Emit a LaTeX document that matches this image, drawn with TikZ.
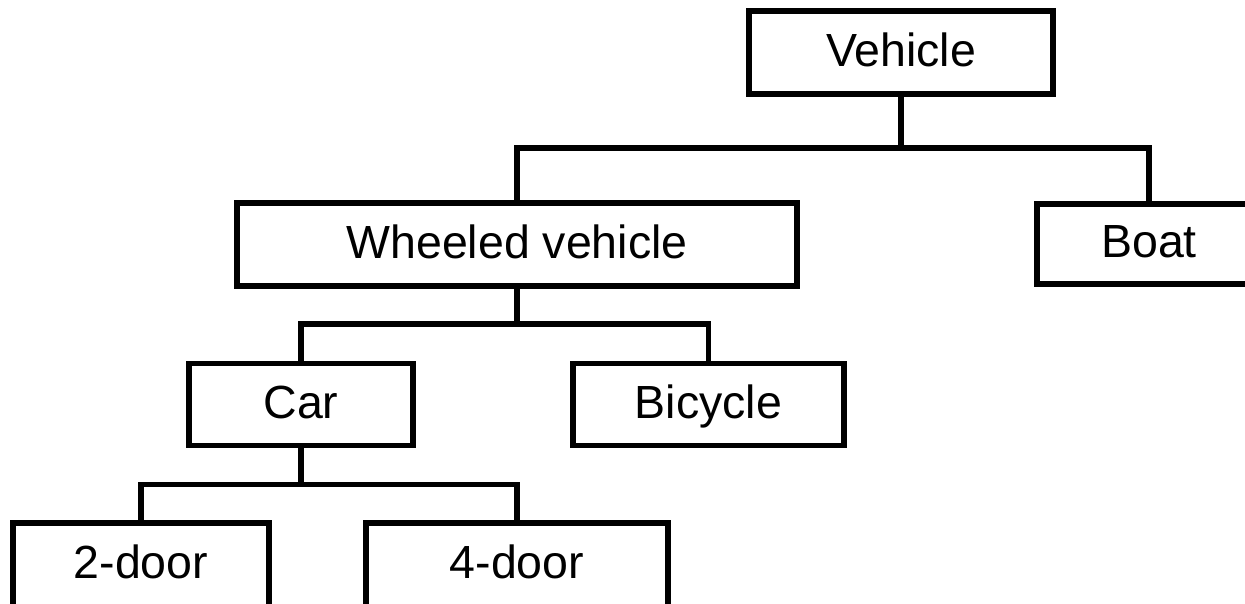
\documentclass[tikz,border=0pt]{standalone}
\usepackage{fontspec}
\setmainfont{Liberation Sans}
\begin{document}
\begin{tikzpicture}[x=1pt,y=-1pt,
  box/.style={draw=black, line width=5.7pt, rectangle, inner sep=0pt,
    minimum height=82pt, text height=33.3pt, text depth=5.3pt,
    font=\fontsize{46.5pt}{50pt}\selectfont},
  lowbox/.style={box, minimum height=90pt, text height=25.3pt},
  link/.style={draw=black, line width=5.7pt}]
\useasboundingbox (0,0) rectangle (1245,604);
\clip (0,0) rectangle (1245,604);

% boxes of the hierarchy
\node[box, minimum width=304pt, minimum height=83pt] (veh) at (901,52.5) {Vehicle};
\node[box, minimum width=560pt, minimum height=83pt] (wv)  at (517,244.5) {Wheeled vehicle};
\node[box, minimum width=224pt, minimum height=80pt] (boat) at (1149,244) {Boat};
\node[box, minimum width=224pt] (car) at (301,404.5) {Car};
\node[box, minimum width=271pt] (bic) at (708.5,404.5) {Bicycle};
\node[lowbox, minimum width=256pt] (d2) at (141,568) {2-door};
\node[lowbox, minimum width=302.5pt] (d4) at (517,568) {4-door};

% branch points
\coordinate (j1) at (901,148);
\coordinate (j2) at (517,324);
\coordinate (j3) at (301,484.5);

% tree connectors
\draw[link] (veh.south) -- (j1);
\draw[link] (wv.north) |- (j1) -| (boat.north);
\draw[link] (wv.south) -- (j2);
\draw[link] (car.north) |- (j2) -| (bic.north);
\draw[link] (car.south) -- (j3);
\draw[link] (d2.north) |- (j3) -| (d4.north);
\end{tikzpicture}
\end{document}
